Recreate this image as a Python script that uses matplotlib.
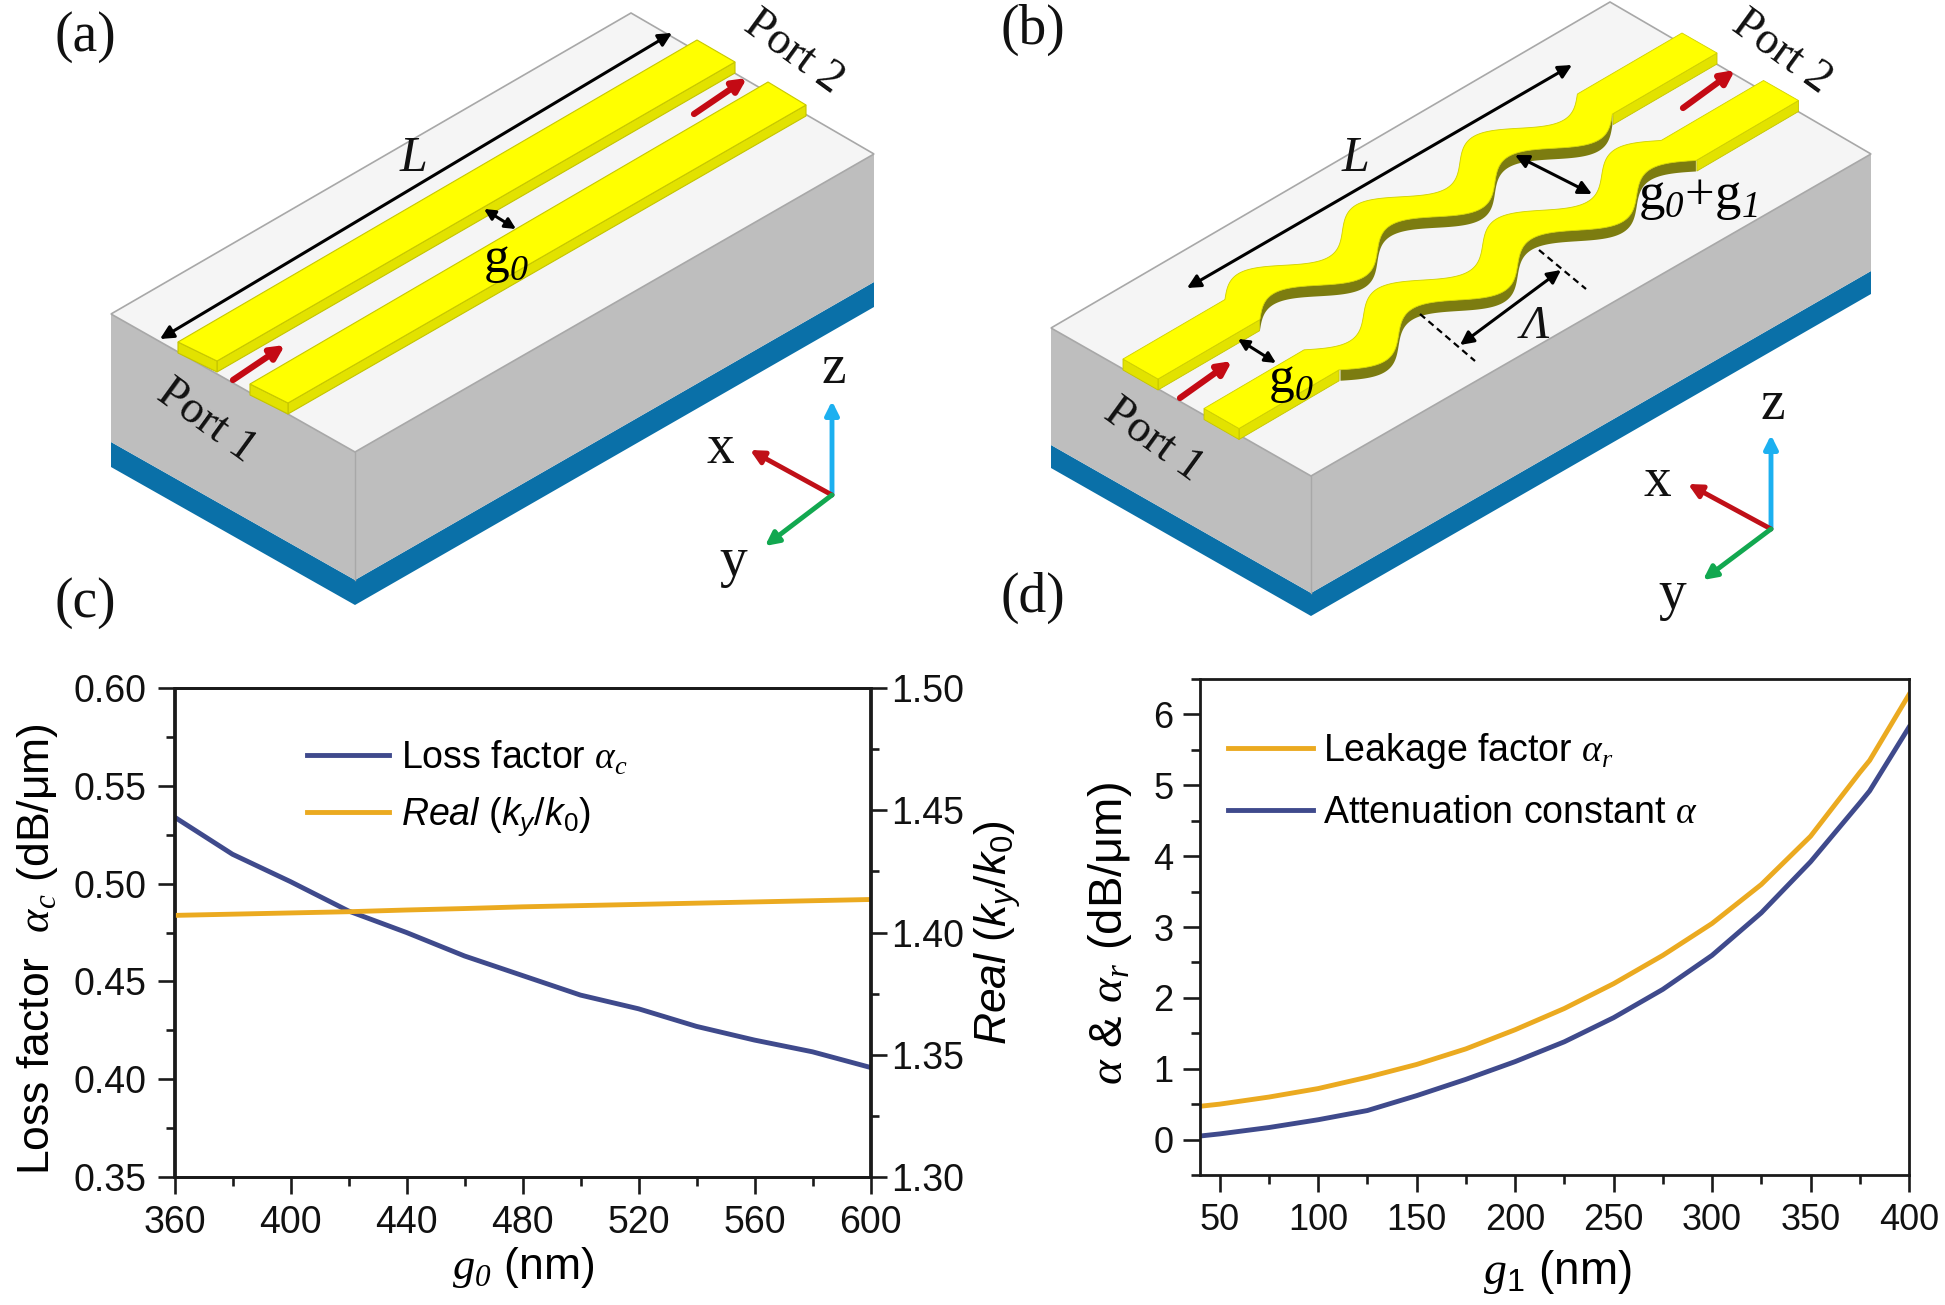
import numpy as np
import matplotlib
matplotlib.use("Agg")
import matplotlib.pyplot as plt
from matplotlib.patches import Polygon, FancyArrowPatch
from matplotlib.ticker import MultipleLocator, FormatStrFormatter

W_PX, H_PX = 1945, 1305
plt.rcParams.update({
    'font.family': ['Liberation Sans', 'DejaVu Sans'],
    'mathtext.fontset': 'custom',
    'mathtext.rm': 'Liberation Sans',
    'mathtext.it': 'Liberation Sans:italic',
    'mathtext.cal': 'Liberation Serif:italic',
})

# ---- panel (c) data
g0_nm = [360, 380, 400, 420, 440, 460, 480, 500, 520, 540, 560, 580, 600]
loss_factor = [.534, .515, .501, .486, .475, .463, .453, .443, .436, .427, .420, .414, .406]
real_k = [1.407, 1.4075, 1.408, 1.4085, 1.4092, 1.4098, 1.4105, 1.4110, 1.4115, 1.4120, 1.4125, 1.4130, 1.4135]
# ---- panel (d) data
g1_nm = [40, 50, 75, 100, 125, 150, 175, 200, 225, 250, 275, 300, 325, 350, 375, 380, 400]
leakage = [.47, .50, .60, .72, .88, 1.06, 1.28, 1.55, 1.85, 2.20, 2.60, 3.05, 3.60, 4.28, 5.18, 5.35, 6.28]
attenuation = [.05, .08, .17, .28, .41, .62, .85, 1.10, 1.38, 1.72, 2.12, 2.60, 3.20, 3.92, 4.75, 4.92, 5.82]

BLUE, ORANGE = '#3F4A8C', '#EBAA20'
TOP_C, GRAY_C, BASE_C, EDGE_C = '#F5F5F5', '#BEBEBE', '#0A70A8', '#A8A8A8'
YEL, YEL_SIDE, OLIVE = '#FFFF00', '#E2E200', '#7C7C10'
RED, CYAN, GREEN, AXRED = '#C40A14', '#1CB0F0', '#12A850', '#C01018'

# ---- schematic geometry (pixels of the picture)
block_a = dict(top=(631, 13), left=(111, 314), right=(874, 154), front=(355, 452),
               h_gray=128, h_base=25)
block_b = dict(top=(1610, 2), left=(1051, 328), right=(1871, 154), front=(1311, 476),
               h_gray=117, h_base=23)
strips_a = [((178, 342), (217, 361), (697, 40), (735, 62)),
            ((250, 384), (288, 403), (768, 82), (806, 105))]
wave_b = [dict(c0=(1140.5, 369), c1=(1699.5, 43), w0=118, w1=526, sign=-1),
          dict(c0=(1221.5, 418.5), c1=(1781, 90.5), w0=116, w1=530, sign=1)]
WIDTH_VEC = (35, 20)
AMP = 18
PERIODS = 3

fig = plt.figure(figsize=(W_PX / 100, H_PX / 100), dpi=100, facecolor='white')
sk = fig.add_axes([0, 0, 1, 1])
sk.set_xlim(0, W_PX)
sk.set_ylim(H_PX, 0)
sk.axis('off')


def poly(pts, fc, ec='none', lw=0.8, z=1):
    sk.add_patch(Polygon(pts, closed=True, fc=fc, ec=ec, lw=lw, zorder=z))


def block(b):
    t, l, r, f = [np.array(b[k], float) for k in ('top', 'left', 'right', 'front')]
    g = np.array([0, b['h_gray']])
    h = np.array([0, b['h_gray'] + b['h_base']])
    poly([l + g, f + g, f + h, l + h], BASE_C)
    poly([r + g, f + g, f + h, r + h], BASE_C, z=1)
    poly([l, f, f + g, l + g], GRAY_C)
    poly([r, f, f + g, r + g], GRAY_C)
    poly([t, l, f, r], TOP_C, EDGE_C, 1.2, 2)
    sk.plot([f[0], f[0]], [f[1], f[1] + g[1]], color=EDGE_C, lw=1, zorder=2)


def straight_strip(s, drop=11):
    a, b_, c, d = [np.array(p, float) for p in s]
    dz = np.array([0, drop])
    poly([b_, d, d + dz, b_ + dz], YEL_SIDE, '#C4C400', 0.8, 3)
    poly([a, b_, b_ + dz, a + dz], YEL_SIDE, '#C4C400', 0.8, 3)
    poly([a, b_, d, c], YEL, '#C8C800', 0.8, 4)


def wavy_strip(st, drop=11):
    c0, c1 = np.array(st['c0']), np.array(st['c1'])
    L = np.hypot(*(c1 - c0))
    u = (c1 - c0) / L
    wv = np.array(WIDTH_VEC, float)
    lat = wv / np.hypot(*wv)
    s = np.linspace(0, L, 700)
    th = (s - st['w0']) / (st['w1'] - st['w0']) * 2 * np.pi * PERIODS
    d = st['sign'] * AMP * np.sin(th)
    inw = (s >= st['w0']) & (s <= st['w1'])
    d[~inw] = 0
    P = c0 + np.outer(s, u) + np.outer(d, lat)
    left, right = P - wv / 2, P + wv / 2
    dz = np.array([0, drop])
    near = right[s < st['w0']]
    far = right[s > st['w1']]
    mid = right[inw]
    poly(np.vstack([mid, (mid + dz)[::-1]]), OLIVE, z=3)
    for seg in (near, far):
        poly(np.vstack([seg, (seg + dz)[::-1]]), YEL_SIDE, '#C4C400', 0.6, 3)
    poly([left[0], right[0], right[0] + dz, left[0] + dz], YEL_SIDE, '#C4C400', 0.6, 3)
    poly(np.vstack([left, right[::-1]]), YEL, '#D0D000', 0.6, 4)


def arrow(p0, p1, color='black', lw=2.2, style='-|>', ms=20, z=6):
    sk.add_patch(FancyArrowPatch(p0, p1, arrowstyle=style, mutation_scale=ms, lw=lw,
                                 color=color, shrinkA=0, shrinkB=0, zorder=z))


def stext(x, y, s, size=36, rot=0, style='normal'):
    sk.text(x, y, s, fontsize=size, rotation=rot, style=style, ha='center', va='center',
            family=['Liberation Serif', 'DejaVu Serif'], zorder=8, rotation_mode='anchor',
            color='#111111')


# panel (a)
block(block_a)
for s_ in strips_a:
    straight_strip(s_)
arrow((672, 33), (160, 339), style='<|-|>')
arrow((484, 209), (516, 229), style='<|-|>', ms=16)
arrow((233, 380), (285, 345), RED, 4.5)
arrow((694, 114), (747, 78), RED, 4.5)
arrow((832, 495), (832, 401), CYAN, 3.5)
arrow((832, 495), (750, 450), AXRED, 3.5)
arrow((832, 495), (765, 546), GREEN, 3.5)
stext(85, 37, '(a)', 40)
stext(85, 603, '(c)', 40)
stext(793, 52, 'Port 2', 33, -36)
stext(206, 421, 'Port 1', 33, -36)
stext(413, 159, 'L', 36, style='italic')
sk.text(506, 262, r'g$_{\mathcal{0}}$', fontsize=37, family='Liberation Serif', ha='center', va='center', zorder=8)
stext(834, 369, 'z', 40)
stext(720, 449, 'x', 40)
stext(733, 562, 'y', 40)

# panel (b)
block(block_b)
for st_ in wave_b:
    wavy_strip(st_)
arrow((1572, 65), (1187, 288), style='<|-|>')
arrow((1515, 155), (1592, 194), style='<|-|>')
arrow((1238, 339), (1276, 363), style='<|-|>', ms=16)
arrow((1561, 270), (1460, 345), style='<|-|>')
sk.plot([1539, 1586], [250, 289], color='black', lw=1.6, ls=(0, (3, 2)), zorder=6)
sk.plot([1420, 1475], [314, 361], color='black', lw=1.6, ls=(0, (3, 2)), zorder=6)
arrow((1180, 398), (1232, 361), RED, 4.5)
arrow((1683, 108), (1735, 70), RED, 4.5)
arrow((1771, 529), (1771, 435), CYAN, 3.5)
arrow((1771, 529), (1688, 484), AXRED, 3.5)
arrow((1771, 529), (1703, 580), GREEN, 3.5)
stext(1033, 30, '(b)', 40)
stext(1033, 598, '(d)', 40)
stext(1781, 52, 'Port 2', 33, -36)
stext(1153, 440, 'Port 1', 33, -36)
stext(1355, 159, 'L', 36, style='italic')
sk.text(1291, 382, r'g$_{\mathcal{0}}$', fontsize=37, family='Liberation Serif', ha='center', va='center', zorder=8)
sk.text(1698, 198, r'g$_{\mathcal{0}}$+g$_{\mathcal{1}}$', fontsize=38, family='Liberation Serif', ha='center', va='center', zorder=8)
stext(1535, 327, 'Λ', 34, style='italic')
stext(1773, 405, 'z', 40)
stext(1657, 482, 'x', 40)
stext(1672, 595, 'y', 40)


def axes_px(l, t, r, b):
    return fig.add_axes([l / W_PX, 1 - b / H_PX, (r - l) / W_PX, (b - t) / H_PX], facecolor='none')


def style_axis(a, size, pad_x=8, pad_y=8):
    for sp in a.spines.values():
        sp.set_linewidth(2.0)
        sp.set_color('#1a1a1a')
    a.tick_params(which='major', length=12, width=1.9, labelsize=size, color='#1a1a1a', labelcolor='#111111')
    a.tick_params(which='minor', length=6.5, width=1.9, color='#1a1a1a')
    a.tick_params(axis='x', which='major', pad=pad_x)
    a.tick_params(axis='y', which='major', pad=pad_y)


def place_label(axis, x_px, y_px):
    axis.set_label_coords(x_px / W_PX, 1 - y_px / H_PX, transform=fig.transFigure)
    axis.label.set_ha('center')
    axis.label.set_va('center')


# panel (c)
ax_c = axes_px(174.5, 688, 870.5, 1177)
ax_c.plot(g0_nm, loss_factor, color=BLUE, lw=3.5, label=r'Loss factor $\mathcal{\alpha}_{\mathcal{c}}$')
ax_c.set_xlim(360, 600)
ax_c.set_ylim(.35, .60)
ax_c.xaxis.set_major_locator(MultipleLocator(40))
ax_c.xaxis.set_minor_locator(MultipleLocator(20))
ax_c.yaxis.set_major_locator(MultipleLocator(.05))
ax_c.yaxis.set_minor_locator(MultipleLocator(.025))
ax_c.yaxis.set_major_formatter(FormatStrFormatter('%.2f'))
style_axis(ax_c, 27)
ax_c.set_xlabel(r'$\mathcal{g}_{\mathcal{0}}$ (nm)', fontsize=32)
ax_c.set_ylabel(r'Loss factor  $\mathcal{\alpha}_{\mathcal{c}}$ (dB/μm)', fontsize=32)
place_label(ax_c.xaxis, 523, 1268)
place_label(ax_c.yaxis, 38, 949)

ax_r = ax_c.twinx()
ax_r.set_facecolor('none')
ln_r, = ax_r.plot(g0_nm, real_k, color=ORANGE, lw=3.5, label=r'$\mathit{Real}$ ($\mathit{k_y/k_0}$)')
ax_r.set_ylim(1.30, 1.50)
ax_r.yaxis.set_major_locator(MultipleLocator(.05))
ax_r.yaxis.set_minor_locator(MultipleLocator(.025))
ax_r.yaxis.set_major_formatter(FormatStrFormatter('%.2f'))
style_axis(ax_r, 27, pad_y=3)
ax_r.set_ylabel(r'$\mathit{Real}$ ($\mathit{k_y/k_0}$)', fontsize=32)
place_label(ax_r.yaxis, 998, 933)
h_c = ax_c.get_lines() + [ln_r]
ax_r.legend(h_c, [h.get_label() for h in h_c], loc='upper left', bbox_to_anchor=(0.19, 0.897),
            frameon=False, fontsize=27, handlelength=2.2, handletextpad=0.32, labelspacing=0.5,
            borderpad=0, borderaxespad=0)

# panel (d)
ax_d = axes_px(1200, 679, 1909, 1175)
ax_d.plot(g1_nm, leakage, color=ORANGE, lw=3.5, label=r'Leakage factor $\mathcal{\alpha}_{\mathcal{r}}$')
ax_d.plot(g1_nm, attenuation, color=BLUE, lw=3.5, label=r'Attenuation constant $\mathcal{\alpha}$')
ax_d.set_xlim(40, 400)
ax_d.set_ylim(-.5, 6.5)
ax_d.xaxis.set_major_locator(MultipleLocator(50))
ax_d.xaxis.set_minor_locator(MultipleLocator(25))
ax_d.yaxis.set_major_locator(MultipleLocator(1))
ax_d.yaxis.set_minor_locator(MultipleLocator(.5))
style_axis(ax_d, 26, pad_y=7)
ax_d.set_xlabel(r'$\mathcal{g}_{1}$ (nm)', fontsize=33)
ax_d.set_ylabel(r'$\mathcal{\alpha}$ & $\mathcal{\alpha}_{\mathcal{r}}$ (dB/μm)', fontsize=34)
place_label(ax_d.xaxis, 1557, 1272)
place_label(ax_d.yaxis, 1110, 933)
ax_d.legend(loc='upper left', bbox_to_anchor=(0.04, 0.895), frameon=False, fontsize=27,
            handlelength=2.25, handletextpad=0.28, labelspacing=0.64, borderpad=0, borderaxespad=0)

fig.savefig('out.png', dpi=100, facecolor='white')
